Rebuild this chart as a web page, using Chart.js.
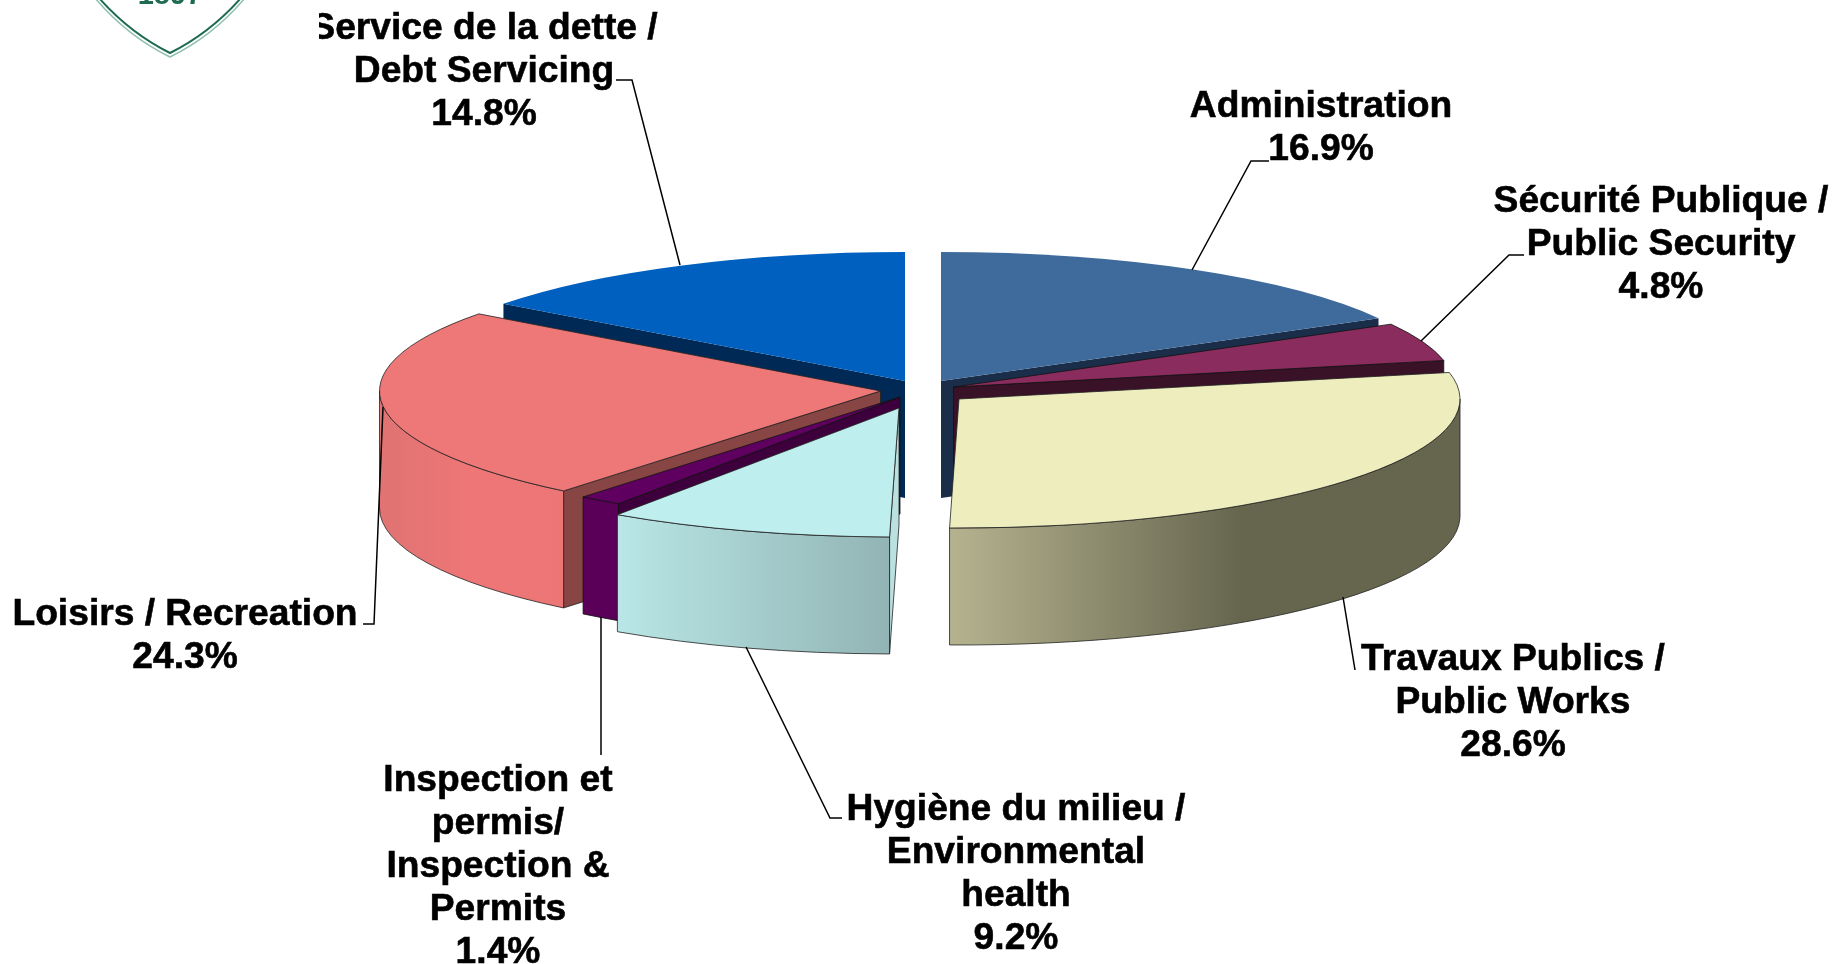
<!DOCTYPE html>
<html>
<head>
<meta charset="utf-8">
<title>Budget</title>
<script src="https://cdn.jsdelivr.net/npm/chart.js@4"></script>
<style>
  html, body { margin: 0; padding: 0; background: #fff; overflow: hidden; }
  canvas { display: block; }
</style>
</head>
<body>
<canvas id="budget-pie" width="1846" height="964"></canvas>
<script>
// data, clockwise from 12 o'clock
const categories = [
  ['Administration'],
  ['Sécurité Publique /', 'Public Security'],
  ['Travaux Publics /', 'Public Works'],
  ['Hygiène du milieu /', 'Environmental', 'health'],
  ['Inspection et', 'permis/', 'Inspection &', 'Permits'],
  ['Loisirs / Recreation'],
  ['Service de la dette /', 'Debt Servicing']
];
const shares = [16.9, 4.8, 28.6, 9.2, 1.4, 24.3, 14.8];

// colours
const topColors = ['#3F6B9C', '#8B2C5E', '#EEEDBD', '#BFEEEE', '#5F0060', '#EE7777', '#0060BF'];
const faceColors = ['#1A2E4A', '#3A1228', '#66664F', '#BBE0E0', '#3D003D', '#874543', '#002A55'];
const rimColors = [null, '#111', '#222', '#222', '#111', '#222', null];
const wallStops = [
  null,
  null,
  [[0, '#B5B38F'], [0.57, '#66664F'], [1, '#66664F']],
  [[0, '#B9E6E6'], [1, '#92B4B4']],
  [[0, '#5A0058'], [1, '#5A0058']],
  [[0, '#E07373'], [0.48, '#EE7676'], [1, '#EC7575']],
  null
];

// where each exploded wedge has its point on the page
const apexes = [[941, 381], [953.5, 387], [959, 399], [899, 408], [900, 397], [880.5, 391], [905, 381]];
const drawOrder = [6, 0, 1, 2, 5, 4, 3];
const flatten = 129 / 501;
const depth = 117;

// label centres: x, y of first line
const labelSpots = [[1321, 106.5], [1661, 201.5], [1513, 659.5], [1016, 809.5], [498, 780.5], [185, 614.5], [484, 28.5]];
const lineGap = 43.1;
const leaders = [
  [[1269, 161], [1251, 161], [1192, 270]],
  [[1524, 255], [1509, 255], [1421, 341]],
  [[1343, 597], [1355, 670]],
  [[746, 647], [830, 818], [842, 818]],
  [[601, 617], [601, 755]],
  [[383, 407], [374, 624], [363, 624]],
  [[616, 80], [632, 80], [680, 265]]
];

const pie3d = {
  id: 'pie3d',
  beforeDatasetsDraw(chart) {
    const { ctx } = chart;
    const arcs = chart.getDatasetMeta(0).data;

    drawOrder.forEach((i) => {
      const arc = arcs[i];
      const s = arc.startAngle, e = arc.endAngle;
      const rx = arc.outerRadius, ry = rx * flatten;
      const [ax, ay] = apexes[i];
      const px = (t) => ax + rx * Math.cos(t);
      const py = (t) => ay + ry * Math.sin(t);

      ctx.save();
      ctx.lineWidth = 0.8;
      ctx.lineJoin = 'round';

      // cut faces that look towards the viewer
      const face = (t) => {
        ctx.beginPath();
        ctx.moveTo(ax, ay);
        ctx.lineTo(px(t), py(t));
        ctx.lineTo(px(t), py(t) + depth);
        ctx.lineTo(ax, ay + depth);
        ctx.closePath();
        ctx.fillStyle = faceColors[i];
        ctx.fill();
        if (rimColors[i]) {
          ctx.strokeStyle = rimColors[i];
          ctx.stroke();
        }
      };
      if (Math.cos(s) < 0) face(s);
      if (Math.cos(e) > 0) face(e);

      // outer wall on the front half of the ellipse
      const a = Math.max(s, 0), b = Math.min(e, Math.PI);
      if (a < b && wallStops[i]) {
        const g = ctx.createLinearGradient(Math.min(px(a), px(b)), 0, Math.max(i === 2 ? ax + rx : px(a), px(b)), 0);
        wallStops[i].forEach(([stop, col]) => g.addColorStop(stop, col));
        ctx.beginPath();
        ctx.ellipse(ax, ay, rx, ry, 0, a, b);
        ctx.ellipse(ax, ay + depth, rx, ry, 0, b, a, true);
        ctx.closePath();
        ctx.fillStyle = g;
        ctx.fill();
        ctx.strokeStyle = rimColors[i];
        ctx.stroke();
      }

      // the top is the library's own arc, squashed onto its apex
      ctx.save();
      ctx.translate(ax, ay);
      ctx.scale(1, flatten);
      ctx.translate(-arc.x, -arc.y);
      arc.draw(ctx);
      ctx.restore();

      if (rimColors[i]) {
        ctx.beginPath();
        ctx.moveTo(ax, ay);
        ctx.ellipse(ax, ay, rx, ry, 0, s, e);
        ctx.closePath();
        ctx.strokeStyle = rimColors[i];
        ctx.stroke();
      }
      ctx.restore();
    });
    return false;
  },
  afterDraw(chart) {
    const { ctx } = chart;
    ctx.save();

    // leader lines
    ctx.strokeStyle = '#000';
    ctx.lineWidth = 1.5;
    leaders.forEach((pts) => {
      ctx.beginPath();
      pts.forEach(([x, y], k) => (k ? ctx.lineTo(x, y) : ctx.moveTo(x, y)));
      ctx.stroke();
    });

    // labels
    ctx.fillStyle = '#000';
    ctx.lineWidth = 0.6;
    ctx.font = 'bold 37.2px "Liberation Sans", Arial, sans-serif';
    ctx.textAlign = 'center';
    ctx.textBaseline = 'middle';
    categories.forEach((lines, i) => {
      const [x, y] = labelSpots[i];
      ctx.save();
      if (i === 6) { // the text box cuts the S in the reference
        ctx.beginPath();
        ctx.rect(319, 0, 1527, 964);
        ctx.clip();
      }
      lines.concat(shares[i].toFixed(1) + '%').forEach((txt, k) => {
        ctx.fillText(txt, x, y + k * lineGap);
        ctx.strokeText(txt, x, y + k * lineGap);
      });
      ctx.restore();
    });

    // bottom of the crest, cut off by the page edge
    ctx.lineWidth = 2;
    ctx.strokeStyle = '#1E6B50';
    ctx.beginPath();
    ctx.moveTo(99, -2);
    ctx.quadraticCurveTo(130, 33, 170, 53);
    ctx.quadraticCurveTo(210, 33, 241, -2);
    ctx.stroke();
    ctx.lineWidth = 1.5;
    ctx.strokeStyle = '#8FBFAE';
    ctx.beginPath();
    ctx.moveTo(95, -2);
    ctx.quadraticCurveTo(127, 36, 170, 57);
    ctx.quadraticCurveTo(213, 36, 245, -2);
    ctx.stroke();
    ctx.fillStyle = '#1E6B50';
    ctx.font = 'bold 29px "Liberation Sans", sans-serif';
    ctx.textBaseline = 'alphabetic';
    ctx.fillText('1897', 170, 3.5);
    ctx.restore();
  }
};

new Chart(document.getElementById('budget-pie'), {
  type: 'pie',
  data: {
    labels: categories.map((l) => l.join(' ')),
    datasets: [{
      data: shares,
      backgroundColor: topColors,
      borderWidth: 0,
      radius: 501
    }]
  },
  options: {
    responsive: false,
    animation: false,
    plugins: { legend: { display: false }, tooltip: { enabled: false } }
  },
  plugins: [pie3d]
});
</script>
</body>
</html>
